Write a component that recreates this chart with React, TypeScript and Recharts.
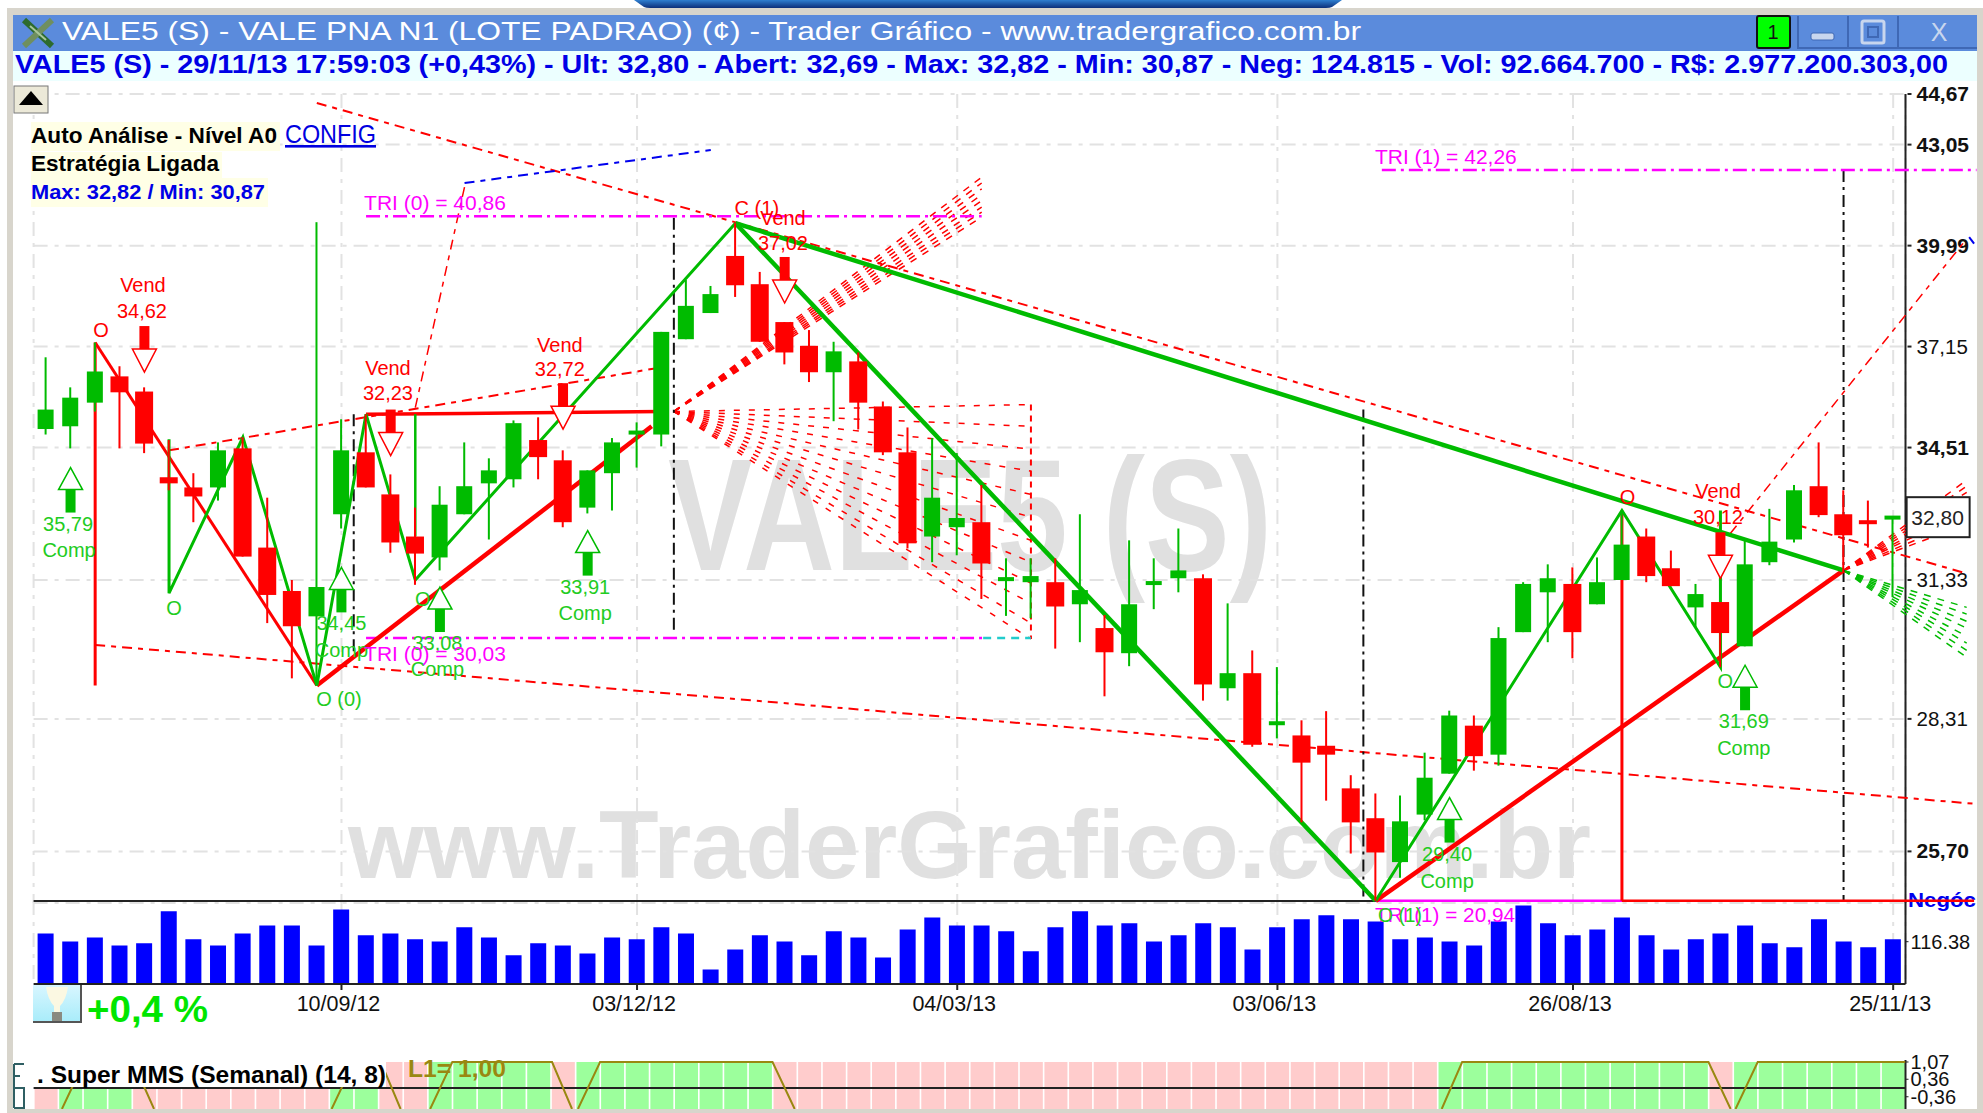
import { Bar, CartesianGrid, ComposedChart, Line, ReferenceLine, Scatter, XAxis, YAxis } from "recharts";

const OPEN = [34.98,35.05,35.66,36.35,35.95,33.77,33.52,33.52,34.49,32.08,31.08,30.51,32.87,34.39,33.35,32.34,31.85,32.87,33.62,33.72,34.70,34.19,33.03,33.87,34.86,34.84,37.35,38.07,39.69,38.88,37.82,37.17,36.46,36.75,35.56,34.39,32.34,32.56,32.68,31.33,31.28,31.28,30.78,30.25,29.70,31.24,31.37,31.37,28.95,29.27,28.20,27.97,27.76,26.91,26.33,25.50,26.40,27.20,28.17,27.58,30.16,31.05,31.24,30.78,31.33,32.34,31.60,30.71,30.83,29.85,31.74,32.27,33.55,32.87,32.70,32.78];
const HIGH = [36.86,36.06,37.26,36.62,36.06,34.70,33.87,34.64,34.77,33.27,31.33,40.68,35.23,35.36,33.84,33.03,33.55,34.64,34.24,35.20,35.28,34.44,33.94,34.75,35.15,37.55,39.00,38.83,40.65,39.23,37.82,37.60,37.28,36.99,35.69,35.02,34.75,34.37,33.58,31.83,31.83,31.83,32.87,30.54,32.25,31.83,32.53,31.46,30.80,29.76,29.40,28.28,28.47,27.17,26.81,26.77,27.62,28.48,28.38,30.27,31.28,31.69,31.62,31.85,32.94,32.53,32.01,31.24,30.83,32.25,33.00,33.58,34.64,33.45,33.20,32.82];
const LOW = [34.84,34.49,35.43,34.49,34.37,33.45,32.68,33.20,31.87,30.36,29.16,29.01,32.53,33.52,31.96,31.22,31.55,32.87,32.27,33.52,33.72,32.56,32.89,32.96,34.01,34.54,37.35,38.07,38.52,37.28,36.67,36.20,35.18,34.97,34.32,32.06,31.74,31.90,30.90,30.52,30.47,29.80,29.94,28.78,29.42,30.67,31.05,28.69,28.69,27.74,27.91,26.25,26.67,25.66,24.79,25.21,26.29,27.20,27.26,27.36,30.16,29.94,29.59,30.78,31.33,31.28,31.19,30.27,29.40,29.85,31.67,32.20,32.80,31.49,32.08,30.94];
const CLOSE = [35.48,35.79,36.48,35.93,34.61,33.62,33.30,34.44,31.87,30.99,30.29,31.17,34.44,33.52,32.20,31.94,33.10,33.55,33.94,35.13,34.27,32.68,33.94,34.64,34.92,37.55,38.27,38.60,38.85,37.28,36.99,36.46,37.02,35.66,34.39,32.18,33.27,32.78,31.71,31.37,31.42,30.73,31.10,29.72,30.78,31.28,31.55,29.03,29.27,27.78,28.24,27.42,27.58,26.25,25.68,26.27,27.12,28.38,27.55,30.03,31.24,31.37,30.16,31.28,32.15,31.42,31.19,31.01,30.14,31.69,32.22,33.45,32.85,32.37,32.66,32.80];
const VOLUME = [139,117,128,106,112,200,123,106,139,161,161,106,205,134,139,123,117,156,128,79,112,106,84,128,123,156,139,40,95,134,117,79,145,128,73,150,183,161,161,145,90,156,200,161,167,117,134,167,156,95,156,178,189,178,172,123,128,117,106,172,216,167,134,150,183,134,95,123,139,161,112,101,178,117,101,123];
const MMS_STATE = [0,1,1,1,0,0,0,0,0,0,0,0,1,1,0,0,1,1,1,1,1,0,1,1,1,1,1,1,1,1,0,0,0,0,0,0,0,0,0,0,0,0,0,0,0,0,0,0,0,0,0,0,0,0,0,0,0,1,1,1,1,1,1,1,1,1,1,1,0,1,1,1,1,1,1,1];

const PRICE_TICKS = [44.67, 43.05, 39.99, 37.15, 34.51, 31.33, 28.31, 25.7];
const BOLD_TICKS = [44.67, 43.05, 39.99, 34.51, 25.7];
const DATE_TICKS = [12, 24, 37, 50, 62, 75];
const DATE_LABELS = ["10/09/12", "03/12/12", "04/03/13", "03/06/13", "26/08/13", "25/11/13"];
const VOL_TICKS = [116.38];
const MMS_TICKS = [1.07, 0.36, -0.36];

// trend lines, [candle index, price]
const GREEN_ZIG = [[5,34.72],[5,31.03],[8,34.77],[11,29.01],[13,35.36],[15,31.33],[28,40.65]];
const GREEN_STEM = [[15,35.36],[15,32.34]];
const GREEN_DOWN = [[28,40.65],[54,24.79]];
const GREEN_LONG = [[28,40.65],[73,31.55]];
const GREEN_ZIG_2 = [[54,24.79],[64,32.96],[68,29.4],[68,32.96]];
const RED_STEM = [[2,37.26],[2,29.01]];
const RED_DOWN = [[2,37.26],[11,29.01]];
const RED_UP = [[11,29.01],[24.6,35.05]];
const RED_FLAT = [[13,35.36],[17,35.38],[25,35.43]];
const RED_UP_2 = [[54,24.79],[73,31.55]];
const RED_STEM_2 = [[64,32.96],[64,24.79]];
const RED_BASE = [[64,24.79],[78.3,24.79]];
const MAGENTA_BASE = [[54,24.79],[64,24.79]];
const DASH_TOP = [[11,44.38],[78,31.48]];
const DASH_LOW = [[2,29.88],[78.3,26.61]];
const DASH_MID = [[5,34.44],[25,36.59]];
const DASH_STEEP = [[15,35.53],[17,41.74]];
const DASH_RIGHT = [[68.4,32.41],[77.9,40.1]];
const BLUE_TOP = [[17,41.86],[27,42.88]];
const BLUE_END = [[78.1,40.24],[78.3,40.05]];
const TRI_40 = [[13,40.86],[38,40.86]];
const TRI_30 = [[13,30.03],[38.06,30.03]];
const TRI_30_END = [[38.06,30.03],[40,30.03]];
const TRI_42 = [[54.25,42.26],[78.4,42.26]];
const BOX_EDGE = [[40,35.61],[40,30.01]];
const BLACK_A = [[12.5,35.36],[12.5,29.72]];
const BLACK_B = [[25.5,40.81],[25.5,30.16]];
const BLACK_C = [[53.5,35.48],[53.5,24.79]];
const BLACK_D = [[73,42.26],[73,24.79]];

// projection fans
const FAN_START = [25.5, 35.43];
const FAN_UP_END = 38;
const FAN_UP_PRICES = [42.04, 41.86, 41.68, 41.5, 41.32, 41.13, 40.98, 40.83];
const FAN_DOWN_END = 40;
const FAN_DOWN_PRICES = [35.61, 35.05, 34.47, 33.92, 33.35, 32.8, 32.25, 31.74, 31.26, 30.8, 30.36, 30.01];
const FAN_RIGHT_START = [73, 31.55];
const FAN_RIGHT_END = 78;
const FAN_RIGHT_RED = [33.7, 33.55, 33.4, 33.25, 33.08, 32.94, 32.77, 32.63];
const FAN_RIGHT_GREEN = [30.71, 30.56, 30.4, 30.25, 30.07, 29.92, 29.76, 29.61];

const SELL_SIGNALS = [{ i: 4, p: 37.71 }, { i: 14, p: 35.48 }, { i: 21, p: 36.17 }, { i: 30, p: 39.66 }, { i: 68, p: 32.44 }];
const BUY_SIGNALS = [{ i: 1, p: 34.01 }, { i: 12, p: 31.62 }, { i: 16, p: 31.17 }, { i: 22, p: 32.48 }, { i: 57, p: 26.73 }, { i: 69, p: 29.44 }];

const RED_NOTES = [
  { i: 2.24, p: 37.6, text: "O" },
  { i: 3.94, p: 38.85, text: "Vend" },
  { i: 3.9, p: 38.12, text: "34,62" },
  { i: 13.89, p: 36.57, text: "Vend" },
  { i: 13.89, p: 35.92, text: "32,23" },
  { i: 20.87, p: 37.2, text: "Vend" },
  { i: 20.87, p: 36.54, text: "32,72" },
  { i: 28.87, p: 41.11, text: "C (1)" },
  { i: 29.93, p: 40.81, text: "Vend" },
  { i: 29.93, p: 40.06, text: "37,02" },
  { i: 64.23, p: 33.3, text: "O" },
  { i: 67.9, p: 33.43, text: "Vend" },
  { i: 67.9, p: 32.8, text: "30,12" },
];
const GREEN_NOTES = [
  { i: 0.9, p: 32.65, text: "35,79" },
  { i: 0.94, p: 32.03, text: "Comp" },
  { i: 5.2, p: 30.69, text: "O" },
  { i: 12, p: 30.36, text: "34,45" },
  { i: 12, p: 29.78, text: "Comp" },
  { i: 11.9, p: 28.73, text: "O (0)" },
  { i: 15.3, p: 30.91, text: "O" },
  { i: 15.9, p: 29.92, text: "33,08" },
  { i: 15.9, p: 29.36, text: "Comp" },
  { i: 21.9, p: 31.17, text: "33,91" },
  { i: 21.9, p: 30.58, text: "Comp" },
  { i: 56.9, p: 25.65, text: "29,40" },
  { i: 56.9, p: 25.16, text: "Comp" },
  { i: 68.2, p: 29.11, text: "O" },
  { i: 68.95, p: 28.27, text: "31,69" },
  { i: 68.95, p: 27.72, text: "Comp" },
];
const MAGENTA_NOTES = [
  { i: 15.8, p: 41.28, text: "TRI (0) = 40,86" },
  { i: 15.8, p: 29.7, text: "TRI (0) = 30,03" },
  { i: 56.85, p: 42.69, text: "TRI (1) = 42,26" },
];
const LAST_PRICE = [{ i: 76.82, p: 32.8, text: "32,80" }];

// super mms line, null breaks the line between runs
const MMS_X = [0.65,1.55,3.54,4.39,5,11.6,12.5,13.6,14.4,15,15.6,16.5,20.55,21.36,21.5,21.6,22.5,29.5,30.4,31,56.67,57.5,67.5,68.4,68.5,68.6,69.5,75.5];
const MMS_LINE = [-0.864,1.07,1.07,-0.864,null,-0.864,1.07,1.07,-0.864,null,-0.864,1.07,1.07,-0.864,null,-0.864,1.07,1.07,-0.864,null,-0.864,1.07,1.07,-0.864,null,-0.864,1.07,1.07];

const GREEN = "#00bb00";
const RED = "#ff0000";
const MAGENTA = "#ff00ff";
const GRID = "#e2e2e2";
const FONT = "'Liberation Sans', Arial, sans-serif";
const W = 1983;
const H = 1113;
const DASH_RED = "10 6 5 6";
const DASH_DOT = "14 5 3 5";

const candles = OPEN.map((open, i) => ({
  i,
  up: CLOSE[i] >= OPEN[i],
  wick: [LOW[i], HIGH[i]],
  body: [Math.min(open, CLOSE[i]), Math.max(open, CLOSE[i])],
}));
const volumeRows = VOLUME.map((v, i) => ({ i, v }));
const mmsRows = MMS_STATE.map((s, i) => ({ i, range: [-0.864, 1.07], s }));
const mmsLine = MMS_X.map((i, n) => ({ i, p: MMS_LINE[n] }));
const pts = (list: number[][]) => list.map(([i, p]) => ({ i, p }));

const fmt = (v: number) => v.toFixed(2).replace(".", ",");

const priceMargin = { top: 94, right: 4, bottom: 210, left: 33.6 };
const axisMargin = { top: 94, right: 0, bottom: 210, left: 33.6 };
const mmsMargin = { top: 1060, right: 0, bottom: 4, left: 33.6 };

function hiddenPriceAxes() {
  return [
    <XAxis key="x" type="number" dataKey="i" domain={[-0.5, 78.5]} allowDataOverflow hide />,
    <YAxis key="y" type="number" dataKey="p" scale="log" domain={[24.75, 44.67]} allowDataOverflow hide />,
  ];
}

function trend(list: number[][], stroke: string, width: number, dash?: string) {
  return (
    <Line
      key={`${stroke}-${width}-${list[0].join()}-${list[1].join()}`}
      data={pts(list)}
      dataKey="p"
      stroke={stroke}
      strokeWidth={width}
      strokeDasharray={dash}
      dot={false}
      activeDot={false}
      legendType="none"
      isAnimationActive={false}
    />
  );
}

function PriceTick(props: any) {
  const { x, y, payload } = props;
  const bold = BOLD_TICKS.includes(payload.value);
  return (
    <g>
      <line x1={x - 6} x2={x - 2} y1={y} y2={y} stroke="#222" strokeWidth={2} />
      <text x={x + 3} y={y + 7} fontFamily={FONT} fontSize={bold ? 21 : 20.5} fontWeight={bold ? 700 : 400} fill="#111">
        {fmt(payload.value)}
      </text>
    </g>
  );
}

function WickShape(props: any) {
  const { x, y, width, height, payload } = props;
  return <rect x={x + width / 2 - 1} y={y} width={2} height={height} fill={payload.up ? GREEN : RED} />;
}

function BodyShape(props: any) {
  const { x, y, width, height, payload } = props;
  const w = payload.up ? 16 : 18;
  const h = Math.max(height, 4);
  return <rect x={x + width / 2 - w / 2} y={y + height / 2 - h / 2} width={w} height={h} fill={payload.up ? GREEN : RED} />;
}

function MmsCell(props: any) {
  const { x, y, width, height, payload } = props;
  return <rect x={x} y={y} width={width} height={height} fill={payload.s ? "#9cff9c" : "#ffcccc"} />;
}

function SellArrow(props: any) {
  const { cx, cy } = props;
  return (
    <g>
      <rect x={cx - 5} y={cy} width={10} height={23} fill={RED} />
      <polygon points={`${cx - 12},${cy + 23} ${cx + 12},${cy + 23} ${cx},${cy + 46}`} fill="#fff" stroke={RED} strokeWidth={1.5} />
    </g>
  );
}

function BuyArrow(props: any) {
  const { cx, cy } = props;
  return (
    <g>
      <polygon points={`${cx},${cy} ${cx - 12},${cy + 22} ${cx + 12},${cy + 22}`} fill="#fff" stroke={GREEN} strokeWidth={1.5} />
      <rect x={cx - 5} y={cy + 22} width={10} height={23} fill={GREEN} />
    </g>
  );
}

const noteShape = (fill: string, size: number) => (props: any) => (
  <text x={props.cx} y={props.cy} dy={size * 0.36} textAnchor="middle" fontFamily={FONT} fontSize={size} fill={fill}>
    {props.payload.text}
  </text>
);

function LastPriceBox(props: any) {
  const { cx, cy, payload } = props;
  return (
    <g>
      <rect x={cx - 31} y={cy - 20} width={63} height={40} fill="#fff" stroke="#222" strokeWidth={2} />
      <text x={cx} y={cy + 8} textAnchor="middle" fontFamily={FONT} fontSize={21} fill="#222">
        {payload.text}
      </text>
    </g>
  );
}

function layer(children: any) {
  return <div style={{ position: "absolute", left: 0, top: 0, width: W, height: H }}>{children}</div>;
}

export default function App() {
  return (
    <div style={{ position: "absolute", left: 0, top: 0, width: W, height: H, background: "#fff", overflow: "hidden" }}>
      {layer(
        <svg width={W} height={H}>
          <text x={668} y={570} fontFamily={FONT} fontWeight={700} fontSize={160} fill="#e0e0e0" textLength={604} lengthAdjust="spacingAndGlyphs">
            VALE5 (S)
          </text>
          <text x={348} y={878} fontFamily={FONT} fontWeight={700} fontSize={96} fill="#e0e0e0" textLength={1243} lengthAdjust="spacingAndGlyphs">
            www.TraderGrafico.com.br
          </text>
          <text x={1908} y={907} fontFamily={FONT} fontWeight={700} fontSize={21} fill="#0000ee" textLength={68} lengthAdjust="spacingAndGlyphs">
            Negóc
          </text>
        </svg>
      )}

      {layer(
        <ComposedChart width={W} height={H} margin={axisMargin}>
          <CartesianGrid stroke={GRID} strokeWidth={2} strokeDasharray="14 7 4 7" />
          <XAxis type="number" dataKey="i" domain={[-0.5, 75.5]} ticks={DATE_TICKS} allowDataOverflow hide />
          <YAxis
            type="number"
            dataKey="p"
            orientation="right"
            scale="log"
            domain={[24.75, 44.67]}
            allowDataOverflow
            ticks={PRICE_TICKS}
            interval={0}
            width={77.5}
            tick={<PriceTick />}
            tickLine={false}
            axisLine={{ stroke: "#222", strokeWidth: 2 }}
          />
        </ComposedChart>
      )}

      {layer(
        <ComposedChart width={W} height={H} data={volumeRows} margin={{ top: 901, right: 0, bottom: 99, left: 33.6 }}>
          <CartesianGrid stroke={GRID} strokeWidth={2} strokeDasharray="14 7 4 7" horizontal={false} />
          <XAxis
            type="number"
            dataKey="i"
            domain={[-0.5, 75.5]}
            allowDataOverflow
            ticks={DATE_TICKS}
            interval={0}
            height={30}
            tickSize={6}
            tickMargin={6}
            tickFormatter={(v: number) => DATE_LABELS[DATE_TICKS.indexOf(v)]}
            tick={{ fill: "#111", fontSize: 21.5, fontFamily: FONT, dx: -3 }}
            tickLine={{ stroke: "#222", strokeWidth: 2 }}
            axisLine={{ stroke: "#222", strokeWidth: 2 }}
          />
          <YAxis
            type="number"
            orientation="right"
            domain={[0, 228.3]}
            allowDataOverflow
            ticks={VOL_TICKS}
            interval={0}
            width={77.5}
            tickSize={3}
            tickMargin={2}
            tickFormatter={(v: number) => String(v)}
            tick={{ fill: "#111", fontSize: 20, fontFamily: FONT }}
            tickLine={{ stroke: "#222" }}
            axisLine={{ stroke: "#222", strokeWidth: 2 }}
          />
          <ReferenceLine y={228.3} stroke="#222" strokeWidth={2} />
          <Bar dataKey="v" fill="#0000ff" barSize={16} isAnimationActive={false} />
        </ComposedChart>
      )}

      {layer(
        <ComposedChart width={W} height={H} data={mmsRows} margin={mmsMargin}>
          <XAxis type="number" dataKey="i" domain={[-0.5, 75.5]} allowDataOverflow hide />
          <YAxis
            type="number"
            orientation="right"
            domain={[-0.864, 1.152]}
            allowDataOverflow
            ticks={MMS_TICKS}
            interval={0}
            width={77.5}
            tickSize={3}
            tickMargin={2}
            tickFormatter={fmt}
            tick={{ fill: "#111", fontSize: 20, fontFamily: FONT }}
            tickLine={{ stroke: "#222" }}
            axisLine={{ stroke: "#222", strokeWidth: 2 }}
          />
          <Bar dataKey="range" barSize={23} shape={<MmsCell />} isAnimationActive={false} />
        </ComposedChart>
      )}

      {layer(
        <ComposedChart width={W} height={H} margin={{ ...mmsMargin, right: 77.5 }}>
          <XAxis type="number" dataKey="i" domain={[-0.5, 75.5]} allowDataOverflow hide />
          <YAxis type="number" dataKey="p" domain={[-0.864, 1.152]} allowDataOverflow hide />
          <ReferenceLine y={0} stroke="#222" strokeWidth={2} />
          <Line data={mmsLine} dataKey="p" stroke="#998811" strokeWidth={2} dot={false} activeDot={false} connectNulls={false} isAnimationActive={false} />
        </ComposedChart>
      )}

      {layer(
        <ComposedChart width={W} height={H} margin={priceMargin}>
          {hiddenPriceAxes()}
          {FAN_UP_PRICES.map((p) => trend([FAN_START, [FAN_UP_END, p]], RED, 1.5, "7 7"))}
          {FAN_DOWN_PRICES.map((p) => trend([FAN_START, [FAN_DOWN_END, p]], RED, 1.5, "6 9"))}
          {FAN_RIGHT_RED.map((p) => trend([FAN_RIGHT_START, [FAN_RIGHT_END, p]], RED, 1.5, "7 7"))}
          {FAN_RIGHT_GREEN.map((p) => trend([FAN_RIGHT_START, [FAN_RIGHT_END, p]], GREEN, 1.5, "7 7"))}
          {trend(BOX_EDGE, RED, 2, "6 5")}
          {trend(DASH_TOP, RED, 2, DASH_RED)}
          {trend(DASH_LOW, RED, 2, DASH_RED)}
          {trend(DASH_MID, RED, 2, DASH_RED)}
          {trend(DASH_STEEP, RED, 1.5, DASH_RED)}
          {trend(DASH_RIGHT, RED, 1.5, DASH_RED)}
          {trend(BLUE_TOP, "#0000ee", 2, DASH_RED)}
          {trend(BLUE_END, "#0000ee", 2)}
          {trend(BLACK_A, "#111", 2, "12 5 3 5")}
          {trend(BLACK_B, "#111", 2, "12 5 3 5")}
          {trend(BLACK_C, "#111", 2, "12 5 3 5")}
          {trend(BLACK_D, "#111", 2, "12 5 3 5")}
          {trend(TRI_40, MAGENTA, 2.5, DASH_DOT)}
          {trend(TRI_30, MAGENTA, 2.5, DASH_DOT)}
          {trend(TRI_30_END, "#22cccc", 2.5, "8 6")}
          {trend(TRI_42, MAGENTA, 2.5, DASH_DOT)}
          {trend(MAGENTA_BASE, MAGENTA, 2.5)}
          {trend(RED_BASE, RED, 2.5)}
          {trend(RED_STEM, RED, 3)}
          {trend(RED_DOWN, RED, 3)}
          {trend(RED_UP, RED, 4.5)}
          {trend(RED_FLAT, RED, 3.5)}
          {trend(RED_UP_2, RED, 4.5)}
          {trend(RED_STEM_2, RED, 3)}
          {trend(GREEN_ZIG, GREEN, 3)}
          {trend(GREEN_STEM, GREEN, 2.5)}
          {trend(GREEN_DOWN, GREEN, 4.5)}
          {trend(GREEN_LONG, GREEN, 4.5)}
          {trend(GREEN_ZIG_2, GREEN, 3)}
        </ComposedChart>
      )}

      {layer(
        <ComposedChart width={W} height={H} data={candles} margin={priceMargin}>
          <XAxis xAxisId="wick" type="number" dataKey="i" domain={[-0.5, 78.5]} allowDataOverflow hide />
          <XAxis xAxisId="body" type="number" dataKey="i" domain={[-0.5, 78.5]} allowDataOverflow hide />
          <YAxis type="number" scale="log" domain={[24.75, 44.67]} allowDataOverflow hide />
          <Bar xAxisId="wick" dataKey="wick" barSize={18} shape={<WickShape />} isAnimationActive={false} />
          <Bar xAxisId="body" dataKey="body" barSize={18} shape={<BodyShape />} isAnimationActive={false} />
        </ComposedChart>
      )}

      {layer(
        <ComposedChart width={W} height={H} margin={priceMargin}>
          {hiddenPriceAxes()}
          <Scatter data={SELL_SIGNALS} shape={<SellArrow />} isAnimationActive={false} />
          <Scatter data={BUY_SIGNALS} shape={<BuyArrow />} isAnimationActive={false} />
          <Scatter data={RED_NOTES} shape={noteShape(RED, 20)} isAnimationActive={false} />
          <Scatter data={GREEN_NOTES} shape={noteShape("#22cc22", 20)} isAnimationActive={false} />
          <Scatter data={MAGENTA_NOTES} shape={noteShape(MAGENTA, 21)} isAnimationActive={false} />
          <Scatter data={LAST_PRICE} shape={<LastPriceBox />} isAnimationActive={false} />
        </ComposedChart>
      )}

      {layer(
        <svg width={W} height={H} style={{ position: "absolute", left: 0, top: 0 }}>
          <defs>
            <linearGradient id="tab" x1="0" y1="0" x2="0" y2="1">
              <stop offset="0" stopColor="#2f7fd0" />
              <stop offset="1" stopColor="#0c2f7a" />
            </linearGradient>
            <linearGradient id="lamp" x1="0" y1="0" x2="0" y2="1">
              <stop offset="0" stopColor="#d8f6ff" />
              <stop offset="1" stopColor="#a8ecfa" />
            </linearGradient>
          </defs>

          {/* window frame */}
          <path d="M634 0 H1342 L1332 7 Q1330 8 1326 8 H650 Q646 8 644 7 Z" fill="url(#tab)" />
          <rect x={7} y={8} width={1976} height={7} fill="#d8d5cc" />
          <rect x={7} y={8} width={6} height={1105} fill="#d8d5cc" />
          <rect x={1977} y={8} width={6} height={1105} fill="#d8d5cc" />
          <rect x={7} y={1109} width={1976} height={4} fill="#d8d5cc" />
          <rect x={13} y={15} width={1964} height={36} fill="#5b8bdc" />
          <rect x={13} y={51} width={1964} height={30} fill="#ecffff" />

          {/* title icon */}
          <path d="M24 20 L52 46" stroke="#2d6b2d" strokeWidth={6} />
          <path d="M24 46 L52 20" stroke="#6f8f5f" strokeWidth={6} />
          <path d="M30 26 L46 40" stroke="#a9c79a" strokeWidth={2} />

          <text x={62} y={40} fontFamily={FONT} fontSize={26} fill="#fff" textLength={1299} lengthAdjust="spacingAndGlyphs">
            VALE5 (S) - VALE PNA N1 (LOTE PADRAO) (¢) - Trader Gráfico - www.tradergrafico.com.br
          </text>
          <text x={15} y={73} fontFamily={FONT} fontSize={26} fontWeight={700} fill="#0000e6" textLength={1933} lengthAdjust="spacingAndGlyphs">
            VALE5 (S) - 29/11/13 17:59:03 (+0,43%) - Ult: 32,80 - Abert: 32,69 - Max: 32,82 - Min: 30,87 - Neg: 124.815 - Vol: 92.664.700 - R$: 2.977.200.303,00
          </text>

          {/* title bar buttons */}
          <rect x={1757} y={16} width={33} height={32} rx={2} fill="#00ff00" stroke="#111" strokeWidth={2} />
          <text x={1773} y={39} textAnchor="middle" fontFamily={FONT} fontSize={20} fill="#111">1</text>
          <path d="M1798 16 V48 H1977 M1848 16 V48 M1898 16 V48" fill="none" stroke="#3f68b5" strokeWidth={2} />
          <rect x={1811} y={33} width={23} height={7} rx={2} fill="#c8d6ee" stroke="#3f68b5" />
          <rect x={1862} y={21} width={22} height={22} rx={2} fill="none" stroke="#c8d6ee" strokeWidth={3} />
          <rect x={1868} y={27} width={10} height={10} fill="none" stroke="#3f68b5" strokeWidth={2} />
          <text x={1939} y={41} textAnchor="middle" fontFamily={FONT} fontSize={25} fill="#c8d6ee">X</text>

          {/* up button */}
          <rect x={14} y={86} width={34} height={27} fill="#ece9d8" stroke="#777" />
          <polygon points="31,91 43,105 19,105" fill="#000" />

          {/* auto analise block */}
          <rect x={31} y={122} width={249} height={29} fill="#ffffe6" />
          <rect x={31} y={152} width={191} height={26} fill="#ffffe6" />
          <rect x={31} y={178} width={237} height={29} fill="#ffffe6" />
          <text x={31} y={143} fontFamily={FONT} fontSize={22} fontWeight={700} fill="#000" textLength={246} lengthAdjust="spacingAndGlyphs">
            Auto Análise - Nível A0
          </text>
          <text x={285} y={143} fontFamily={FONT} fontSize={26} fill="#0000e0" textDecoration="underline" textLength={91} lengthAdjust="spacingAndGlyphs">
            CONFIG
          </text>
          <text x={31} y={171} fontFamily={FONT} fontSize={22} fontWeight={700} fill="#000" textLength={188} lengthAdjust="spacingAndGlyphs">
            Estratégia Ligada
          </text>
          <text x={31} y={199} fontFamily={FONT} fontSize={21} fontWeight={700} fill="#0000e6" textLength={234} lengthAdjust="spacingAndGlyphs">
            Max: 32,82 / Min: 30,87
          </text>

          {/* notes over the volume panel */}
          <text x={1375} y={922} fontFamily={FONT} fontSize={21} fill={MAGENTA} textLength={140} lengthAdjust="spacingAndGlyphs">
            TRI (1) = 20,94
          </text>
          <text x={1378} y={922} fontFamily={FONT} fontSize={21} fill="#22cc22" textLength={44} lengthAdjust="spacingAndGlyphs">
            O (1)
          </text>

          {/* lamp and change */}
          <rect x={33} y={985} width={48} height={37} fill="url(#lamp)" />
          <path d="M46 987 H68 Q66 1000 60 1006 V1016 H54 V1006 Q48 1000 46 987 Z" fill="#fbf8e2" />
          <rect x={52} y={1012} width={10} height={9} fill="#8a8a80" />
          <path d="M33 1022 H81 V985" fill="none" stroke="#555" strokeWidth={2} />
          <text x={87} y={1022} fontFamily={FONT} fontSize={36} fontWeight={700} fill="#00e600" textLength={121} lengthAdjust="spacingAndGlyphs">
            +0,4 %
          </text>

          {/* super mms caption */}
          <rect x={33} y={1060} width={353} height={27} fill="#fff" />
          <text x={37} y={1083} fontFamily={FONT} fontSize={24} fontWeight={700} fill="#000" textLength={349} lengthAdjust="spacingAndGlyphs">
            . Super MMS (Semanal) (14, 8)
          </text>
          <text x={408} y={1077} fontFamily={FONT} fontSize={23} fontWeight={700} fill="#998811" textLength={98} lengthAdjust="spacingAndGlyphs">
            L1= 1,00
          </text>
          <path d="M14 1064 H24 M14 1064 V1108 M14 1076 H20 M14 1088 H24 V1108 H14" fill="none" stroke="#2f5f63" strokeWidth={2} />
        </svg>
      )}
    </div>
  );
}
